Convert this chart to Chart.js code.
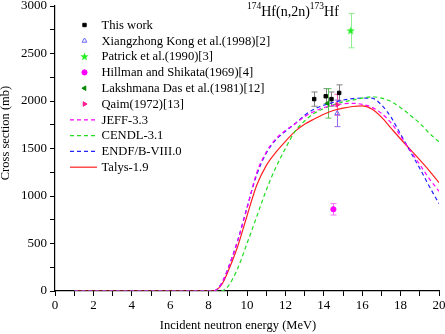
<!DOCTYPE html>
<html>
<head>
<meta charset="utf-8">
<script src="https://cdn.jsdelivr.net/npm/chart.js@4.4.0/dist/chart.umd.min.js"></script>
<style>
  html, body { margin: 0; padding: 0; background: #fff; }
  #wrap { width: 445px; height: 334px; }
</style>
</head>
<body>
<div id="wrap"><canvas id="chart" width="445" height="334"></canvas></div>
<script>
// measured points: energy (MeV), cross section (mb), uncertainty (mb)
const thisWorkE = [13.5, 14.1, 14.4, 14.8];
const thisWorkXs = [2020, 2050, 2020, 2085];
const thisWorkErr = [75, 80, 75, 85];

const kongE = [14.7];
const kongXs = [1870];
const kongErr = [140];

const patrickE = [15.4];
const patrickXs = [2740];
const patrickErr = [180];

const hillmanE = [14.5];
const hillmanXs = [860];
const hillmanErr = [60];

const dasE = [14.2];
const dasXs = [1975];
const dasErr = [155];

const qaimE = [14.7];
const qaimXs = [1960];
const qaimErr = [110];

// evaluated / calculated curves, shared energy grid
const gridE = [1, 8.25, 8.5, 8.75, 9, 9.5, 10, 10.5, 11, 11.5, 12, 12.5, 13, 13.5, 14, 14.5, 15, 15.5, 16, 16.5, 17, 17.5, 18, 18.5, 19, 19.5, 20];
const jeff  = [0, 0, 30, 110, 230, 520, 870, 1240, 1460, 1600, 1690, 1760, 1835, 1890, 1930, 1955, 1970, 1975, 1965, 1935, 1870, 1770, 1630, 1480, 1330, 1180, 1050];
const cendl = [0, 0, 0, 5, 45, 230, 500, 780, 1060, 1300, 1500, 1680, 1790, 1870, 1920, 1960, 1990, 2010, 2030, 2045, 2030, 1995, 1930, 1850, 1765, 1660, 1570];
const endf  = [0, 0, 30, 110, 230, 520, 880, 1220, 1450, 1590, 1680, 1760, 1850, 1915, 1955, 1985, 2010, 2025, 2030, 2030, 1960, 1830, 1650, 1470, 1290, 1100, 920];
const talys = [0, 0, 25, 90, 200, 460, 790, 1110, 1320, 1460, 1575, 1680, 1755, 1810, 1860, 1900, 1925, 1942, 1948, 1915, 1830, 1715, 1600, 1490, 1380, 1265, 1140];

const serif = '"Liberation Serif", "Times New Roman", serif';

function pts(xs, ys) {
    return xs.map((x, i) => ({ x: x, y: ys[i] }));
}

// small filled star for Patrick et al.
function starImage(color) {
    const c = document.createElement('canvas');
    c.width = 9; c.height = 9;
    const g = c.getContext('2d');
    g.fillStyle = color;
    g.beginPath();
    for (let i = 0; i < 10; i++) {
        const r = i % 2 === 0 ? 4.3 : 1.8;
        const a = -Math.PI / 2 + i * Math.PI / 5;
        g.lineTo(4.5 + r * Math.cos(a), 4.7 + r * Math.sin(a));
    }
    g.closePath();
    g.fill();
    return c;
}

function pointSet(label, xs, ys, errs, style, color, barColor, opts) {
    return Object.assign({
        label: label,
        data: pts(xs, ys),
        errors: errs,
        barColor: barColor,
        showLine: false,
        pointStyle: style,
        pointRadius: 2.6,
        pointBackgroundColor: color,
        pointBorderColor: color,
        pointBorderWidth: 1,
        pointRotation: 0
    }, opts || {});
}

function curveSet(label, ys, color, dash) {
    return {
        label: label,
        data: pts(gridE, ys),
        borderColor: color,
        borderWidth: 1.2,
        borderDash: dash,
        pointRadius: 0,
        cubicInterpolationMode: 'monotone',
        fill: false
    };
}

const datasets = [
    pointSet('This work', thisWorkE, thisWorkXs, thisWorkErr, 'rect', '#000000', '#808080', { pointRadius: 2.4 }),
    pointSet('Xiangzhong Kong et al.(1998)[2]', kongE, kongXs, kongErr, 'triangle', '#6666ff', '#9a66ee',
        { pointBackgroundColor: 'rgba(255,255,255,0)', pointRadius: 2.8 }),
    pointSet('Patrick et al.(1990)[3]', patrickE, patrickXs, patrickErr, starImage('#22ee22'), '#22ee22', '#90f090'),
    pointSet('Hillman and Shikata(1969)[4]', hillmanE, hillmanXs, hillmanErr, 'circle', '#ff00ff', '#ff70ff'),
    pointSet('Lakshmana Das et al.(1981)[12]', dasE, dasXs, dasErr, 'triangle', '#008800', '#60c060', { pointRotation: -90 }),
    pointSet('Qaim(1972)[13]', qaimE, qaimXs, qaimErr, 'triangle', '#ff1a8c', '#ff55aa', { pointRotation: 90 }),
    curveSet('JEFF-3.3', jeff, '#ff00ff', [4, 3]),
    curveSet('CENDL-3.1', cendl, '#22dd22', [4, 3]),
    curveSet('ENDF/B-VIII.0', endf, '#2222ff', [4, 3]),
    curveSet('Talys-1.9', talys, '#ff2020', [])
];

// vertical error bars with caps
const errorBars = {
    id: 'errorBars',
    beforeDatasetsDraw(chart) {
        const ctx = chart.ctx;
        const xs = chart.scales.x, ys = chart.scales.y;
        ctx.save();
        chart.data.datasets.forEach(ds => {
            if (!ds.errors) return;
            ctx.strokeStyle = ds.barColor;
            ctx.lineWidth = 1;
            ds.data.forEach((p, i) => {
                const e = ds.errors[i];
                const px = Math.round(xs.getPixelForValue(p.x)) + 0.5;
                const top = ys.getPixelForValue(p.y + e);
                const bot = ys.getPixelForValue(p.y - e);
                ctx.beginPath();
                ctx.moveTo(px, top); ctx.lineTo(px, bot);
                ctx.moveTo(px - 3, top); ctx.lineTo(px + 3, top);
                ctx.moveTo(px - 3, bot); ctx.lineTo(px + 3, bot);
                ctx.stroke();
            });
        });
        ctx.restore();
    }
};

// legend, title and axis titles
const annotations = {
    id: 'annotations',
    afterDraw(chart) {
        const ctx = chart.ctx;
        ctx.save();
        ctx.fillStyle = '#000';
        ctx.textBaseline = 'middle';
        ctx.font = '12.6px ' + serif;
        chart.data.datasets.forEach((ds, i) => {
            const y = 25 + i * 15.8;
            if (ds.showLine === false) {
                ctx.fillStyle = ds.pointBackgroundColor;
                ctx.strokeStyle = ds.pointBorderColor;
                ctx.lineWidth = ds.pointBorderWidth;
                Chart.helpers.drawPoint(ctx, {
                    pointStyle: ds.pointStyle,
                    radius: ds.pointRadius,
                    rotation: ds.pointRotation,
                    borderWidth: ds.pointBorderWidth
                }, 84.5, y);
            } else {
                ctx.strokeStyle = ds.borderColor;
                ctx.lineWidth = ds.borderWidth;
                ctx.setLineDash(ds.borderDash);
                ctx.beginPath();
                ctx.moveTo(70, y); ctx.lineTo(97, y);
                ctx.stroke();
                ctx.setLineDash([]);
            }
            ctx.fillStyle = '#000';
            ctx.textAlign = 'left';
            ctx.fillText(ds.label, 101.5, y + 0.5);
        });

        // reaction label with superscripts
        ctx.textBaseline = 'alphabetic';
        let x = 247;
        const parts = [['174', true], ['Hf(n,2n)', false], ['173', true], ['Hf', false]];
        parts.forEach(([t, sup]) => {
            ctx.font = (sup ? '9.5px ' : '14px ') + serif;
            ctx.fillText(t, x, sup ? 9 : 15.5);
            x += ctx.measureText(t).width;
        });

        // axis titles
        ctx.font = '12.5px ' + serif;
        ctx.textAlign = 'center';
        ctx.textBaseline = 'middle';
        ctx.fillText('Incident neutron energy (MeV)', 238, 326);
        ctx.translate(6, 133);
        ctx.rotate(-Math.PI / 2);
        ctx.fillText('Cross section (mb)', 0, 0);
        ctx.restore();
    }
};

new Chart(document.getElementById('chart'), {
    type: 'line',
    data: { datasets: datasets },
    options: {
        responsive: false,
        animation: false,
        devicePixelRatio: 1,
        layout: { padding: { left: 0, right: 6, top: 6, bottom: 0 } },
        plugins: { legend: { display: false }, tooltip: { enabled: false } },
        scales: {
            x: {
                type: 'linear',
                min: 0, max: 20,
                afterFit: s => { s.height = 43; s.paddingLeft = 0; s.paddingRight = 0; },
                grid: { drawOnChartArea: false, tickLength: 5, tickColor: '#000' },
                border: { color: '#000', width: 1.2 },
                ticks: {
                    stepSize: 1, autoSkip: false, maxRotation: 0, padding: 2,
                    color: '#000', font: { family: serif, size: 13 },
                    callback: v => (v % 2 === 0 ? v : '')
                }
            },
            y: {
                min: 0, max: 3000,
                afterFit: s => { s.width = 55; s.paddingTop = 0; s.paddingBottom = 0; },
                grid: { drawOnChartArea: false, tickLength: 5, tickColor: '#000' },
                border: { color: '#000', width: 1.2 },
                ticks: {
                    stepSize: 250, autoSkip: false, padding: 3,
                    color: '#000', font: { family: serif, size: 13 },
                    callback: v => (v % 500 === 0 ? v : '')
                }
            }
        }
    },
    plugins: [errorBars, annotations]
});
</script>
</body>
</html>
